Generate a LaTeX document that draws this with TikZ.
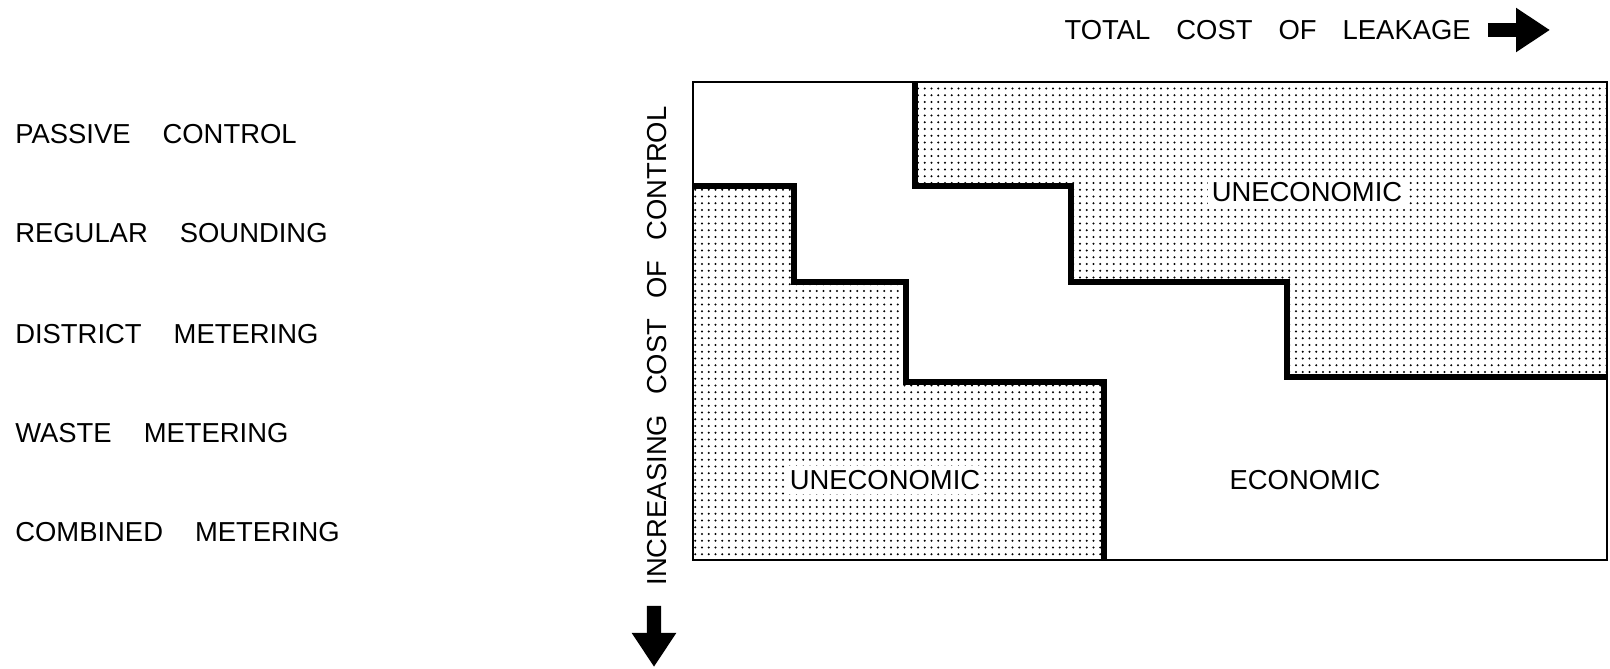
\documentclass[tikz,border=0pt]{standalone}
\usepackage{fontspec}
\setmainfont{Liberation Sans}
\usetikzlibrary{patterns.meta,arrows.meta,positioning}
\begin{document}
\begin{tikzpicture}[x=0.025cm,y=-0.025cm,line join=miter,font=\fontsize{19.5}{23}\selectfont]
	\tikzset{every node/.style={inner sep=0pt},
		lbl/.style={anchor=west},
		zonetxt/.style={fill=white,inner sep=3pt},
		zone/.style={pattern={Dots[distance=4.8pt,radius=0.85pt]}},
		stair/.style={line width=1.45mm},
		frame/.style={line width=0.4mm},
		bigarrow/.style={line width=0.36cm,-{Triangle[length=0.85cm,width=1.05cm]}}}
	\def \gap{\hspace{0.8cm}} \def \vgap{\hspace{0.5cm}}
	\def \xl{693} \def \xr{1607}
	\def \yt{82} \def \yb{560}
	\useasboundingbox (0,0) rectangle (1610,669);
	% dotted zones
	\fill[zone] (\xl,186) -| (794,282) -| (906,382) -| (1104,\yb) -- (\xl,\yb) -- cycle;
	\fill[zone] (915,\yt) |- (1071,186) |- (1287,282) |- (\xr,377) -- (\xr,\yt) -- cycle;
	\draw[frame] (\xl,\yt) rectangle (\xr,\yb);
	\draw[stair] (\xl,186) -| (794,282) -| (906,382) -| (1104,\yb);
	\draw[stair] (915,\yt) |- (1071,186) |- (1287,282) |- (\xr,377);
	% zone labels
	\node[zonetxt] (une1) at (885,480) {UNECONOMIC};
	\node[zonetxt] (une2) at (1307,192) {UNECONOMIC};
	\node (eco) at (1305,480) {ECONOMIC};
	% methods
	\node[lbl] (pc) at (15,134) {PASSIVE\gap CONTROL};
	\node[lbl] (rs) at (15,233) {REGULAR\gap SOUNDING};
	\node[lbl] (dm) at (15,334) {DISTRICT\gap METERING};
	\node[lbl] (wm) at (15,433) {WASTE\gap METERING};
	\node[lbl] (cm) at (15,532) {COMBINED\gap METERING};
	% axes
	\node[anchor=east] (lk) at (1471,30) {TOTAL\hspace{0.65cm}COST\hspace{0.65cm}OF\hspace{0.65cm}LEAKAGE};
	\coordinate (rh) at (1550,30);
	\draw[bigarrow] ([xshift=0.42cm]lk.east) -- (rh);
	\node[rotate=90] (inc) at (657,346) {INCREASING\vgap COST\vgap OF\vgap CONTROL};
	\coordinate (dh) at (654,667);
	\draw[bigarrow] ([xshift=-0.075cm,yshift=-0.5cm]inc.west) -- (dh);
\end{tikzpicture}
\end{document}
